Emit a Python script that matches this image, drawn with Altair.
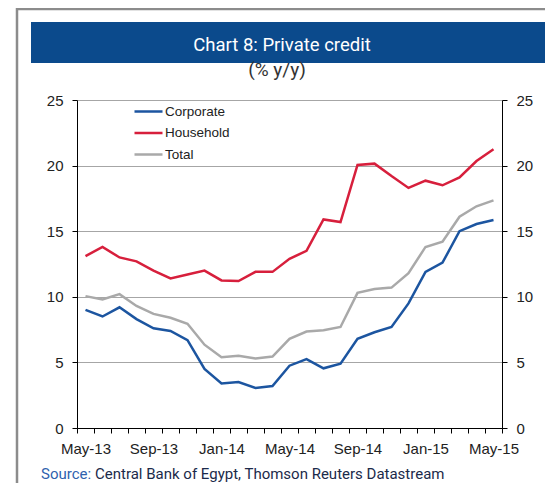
import altair as alt
import pandas as pd

months = ["May-13", "Jun-13", "Jul-13", "Aug-13", "Sep-13", "Oct-13", "Nov-13", "Dec-13",
          "Jan-14", "Feb-14", "Mar-14", "Apr-14", "May-14", "Jun-14", "Jul-14", "Aug-14",
          "Sep-14", "Oct-14", "Nov-14", "Dec-14", "Jan-15", "Feb-15", "Mar-15", "Apr-15", "May-15"]
corporate = [9.0, 8.5, 9.2, 8.3, 7.6, 7.4, 6.7, 4.5, 3.4, 3.5, 3.05, 3.2, 4.75, 5.25,
             4.55, 4.9, 6.8, 7.3, 7.7, 9.5, 11.9, 12.6, 15.0, 15.55, 15.85]
household = [13.1, 13.8, 13.0, 12.7, 12.0, 11.4, 11.7, 12.0, 11.25, 11.2, 11.9, 11.9, 12.9, 13.5,
             15.9, 15.7, 20.05, 20.15, 19.2, 18.3, 18.85, 18.5, 19.1, 20.35, 21.25]
total = [10.05, 9.8, 10.2, 9.3, 8.7, 8.4, 7.95, 6.35, 5.4, 5.5, 5.3, 5.45, 6.8, 7.35,
         7.45, 7.7, 10.3, 10.6, 10.7, 11.8, 13.8, 14.2, 16.1, 16.9, 17.35]
series = ["Corporate", "Household", "Total"]
colors = ["#1C55A0", "#D71F3C", "#A9A9A9"]
label_months = ["May-13", "Sep-13", "Jan-14", "May-14", "Sep-14", "Jan-15", "May-15"]
y_ticks = [0, 5, 10, 15, 20, 25]

title_text = "Chart 8: Private credit"
subtitle_text = "(% y/y)"
source_label = "Source:"
source_text = "Central Bank of Egypt, Thomson Reuters Datastream"

rows = []
for name, vals in zip(series, [corporate, household, total]):
    for m, v in zip(months, vals):
        rows.append({"month": m, "series": name, "value": v})
df = pd.DataFrame(rows)

NARROW = "Roboto, Liberation Sans, sans-serif"
SANS = "Liberation Sans, Arial, sans-serif"

W, H = 425, 328
one = pd.DataFrame({"k": [0]})

frame = alt.Chart(one).mark_rect(fillOpacity=0, stroke="#8C8C8C", strokeWidth=2.5).encode(
    x=alt.value(-60), x2=alt.value(520), y=alt.value(-91), y2=alt.value(460))
bar = alt.Chart(one).mark_rect(fill="#0B4A8C").encode(
    x=alt.value(-46), x2=alt.value(520), y=alt.value(-78), y2=alt.value(-37))
title = alt.Chart(pd.DataFrame({"t": [title_text]})).mark_text(
    font=NARROW, fontSize=18.5, color="white", align="center", baseline="alphabetic").encode(
    x=alt.value(205), y=alt.value(-49), text="t:N")
subtitle = alt.Chart(pd.DataFrame({"t": [subtitle_text]})).mark_text(
    font=NARROW, fontSize=19, color="#333333", align="center", baseline="alphabetic").encode(
    x=alt.value(200), y=alt.value(-24), text="t:N")
src1 = alt.Chart(pd.DataFrame({"t": [source_label]})).mark_text(
    font=NARROW, fontSize=15, color="#2F62AE", align="left", baseline="alphabetic").encode(
    x=alt.value(-36), y=alt.value(379), text="t:N")
src2 = alt.Chart(pd.DataFrame({"t": [source_text]})).mark_text(
    font=NARROW, fontSize=15, color="#1B2A4A", align="left", baseline="alphabetic").encode(
    x=alt.value(18), y=alt.value(379), text="t:N")

label_expr = "indexof(" + str(label_months) + ", datum.value) >= 0 ? datum.label : ''"

x_enc = alt.X("month:N", sort=months,
              scale=alt.Scale(type="band", paddingInner=0, paddingOuter=0),
              axis=alt.Axis(title=None, labelAngle=0, tickBand="extent", labelExpr=label_expr,
                            domainColor="black", tickColor="black", tickSize=5, grid=False,
                            labelPadding=8, labelFont=SANS, labelFontSize=15,
                            labelColor="#222222", labelOverlap=False))

lines = alt.Chart(df).mark_line(strokeWidth=2.5).encode(
    x=x_enc,
    y=alt.Y("value:Q", scale=alt.Scale(domain=[0, 25]),
            axis=alt.Axis(title=None, orient="left", values=y_ticks, grid=True,
                          gridColor="#A6A6A6", gridWidth=1, domainColor="black",
                          tickColor="black", tickSize=5, labelPadding=9,
                          labelFont=SANS, labelFontSize=15, labelColor="#222222")),
    color=alt.Color("series:N", sort=series,
                    scale=alt.Scale(domain=series, range=colors),
                    legend=alt.Legend(orient="none", legendX=56, legendY=4, title=None,
                                      symbolType="stroke", symbolSize=784,
                                      symbolStrokeWidth=2.5, clipHeight=15, rowPadding=6.5,
                                      labelOffset=1, labelFont=SANS, labelFontSize=13.5,
                                      labelColor="#222222", padding=0)),
)

right = alt.Chart(df).mark_line(opacity=0).encode(
    x=alt.X("month:N", sort=months),
    y=alt.Y("value:Q", scale=alt.Scale(domain=[0, 25]),
            axis=alt.Axis(title=None, orient="right", values=y_ticks, grid=False,
                          domainColor="black", tickColor="black", tickSize=5, labelPadding=9,
                          labelFont=SANS, labelFontSize=15, labelColor="#222222")),
    detail="series:N",
)

chart = alt.layer(frame, bar, title, subtitle, src1, src2, lines, right).resolve_axis(
    y="independent"
).properties(
    width=W, height=H,
    autosize=alt.AutoSizeParams(type="none"),
    padding={"left": 69, "top": 92, "right": 43, "bottom": 55},
).configure_view(stroke=None)

chart.save("out.html", embed_options={"renderer": "svg", "actions": False})
